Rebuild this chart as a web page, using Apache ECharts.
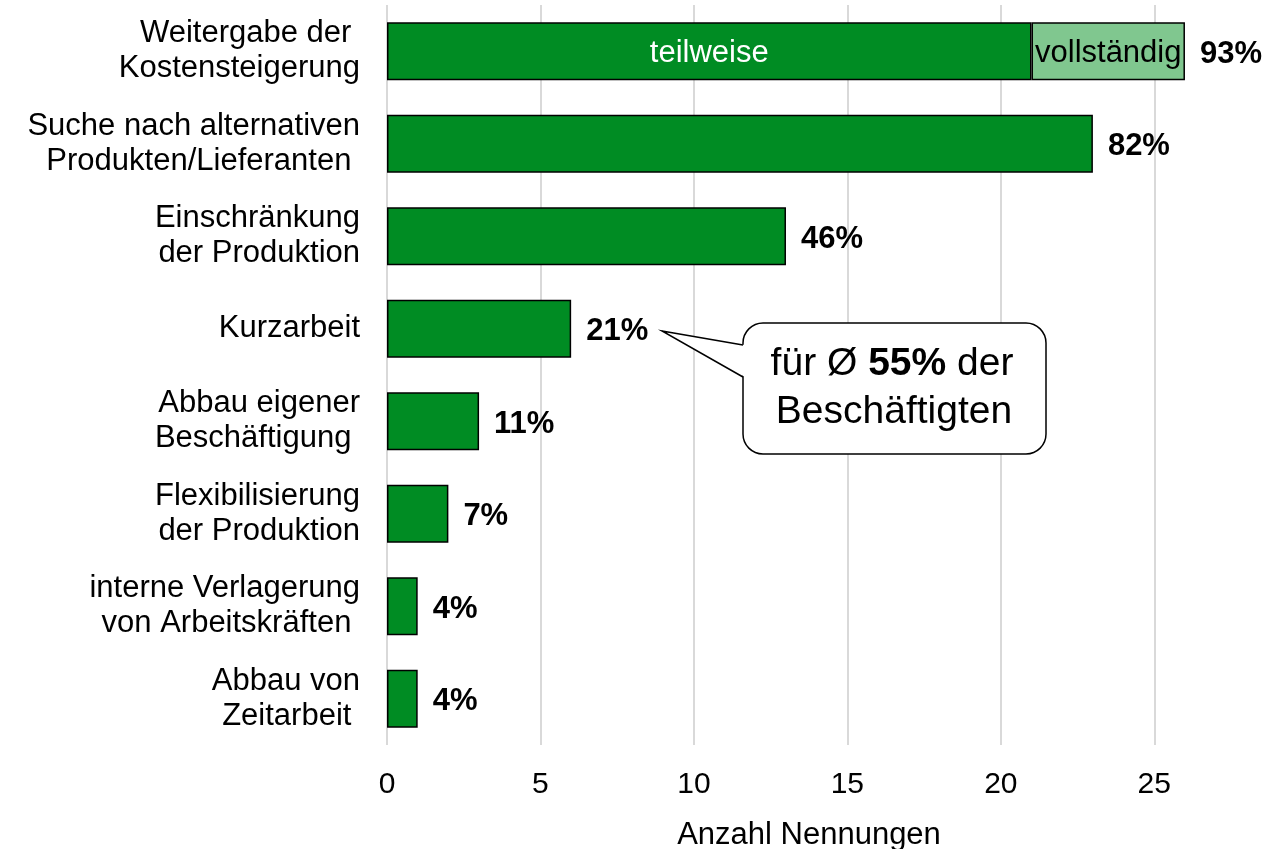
<!DOCTYPE html>
<html>
<head>
<meta charset="utf-8">
<script src="https://cdn.jsdelivr.net/npm/echarts@6/dist/echarts.min.js"></script>
<style>
  html, body { margin: 0; padding: 0; background: #fff; }
  #chart { width: 1272px; height: 849px; }
</style>
</head>
<body>
<div id="chart"></div>
<script>
// Kategorien (von oben nach unten)
var categories = [
  'Weitergabe der \nKostensteigerung',
  'Suche nach alternativen\nProdukten/Lieferanten ',
  'Einschränkung\nder Produktion',
  'Kurzarbeit',
  'Abbau eigener\nBeschäftigung ',
  'Flexibilisierung\nder Produktion',
  'interne Verlagerung\nvon Arbeitskräften ',
  'Abbau von\nZeitarbeit '
];
// Anzahl Nennungen
var teilweise = [21, 23, 13, 6, 3, 2, 1, 1];
var vollstaendig = [5, 0, 0, 0, 0, 0, 0, 0];
var anteile = ['93%', '82%', '46%', '21%', '11%', '7%', '4%', '4%'];
var xTicks = [0, 5, 10, 15, 20, 25];

var FONT = '"Liberation Sans", Arial, sans-serif';
var dunkelgruen = '#008C23';
var hellgruen = '#80C78F';

var chart = echarts.init(document.getElementById('chart'));

var valueLabel = {
  show: true,
  position: 'right',
  distance: 15,
  offset: [0, 3],
  fontFamily: FONT,
  fontSize: 31,
  fontWeight: 'bold',
  color: '#000',
  formatter: function (p) { return anteile[p.dataIndex]; }
};

var option = {
  animation: false,
  textStyle: { fontFamily: FONT },
  grid: { left: 387, right: 41, top: 5, bottom: 104, containLabel: false, outerBoundsMode: 'none' },
  xAxis: {
    type: 'value',
    min: xTicks[0],
    max: 27.5,
    interval: 5,
    name: 'Anzahl Nennungen',
    nameLocation: 'middle',
    nameGap: 75,
    nameTextStyle: { fontFamily: FONT, fontSize: 31, color: '#000' },
    axisLine: { show: false },
    axisTick: { show: false },
    axisLabel: { fontFamily: FONT, fontSize: 30, color: '#000', margin: 25, showMaxLabel: false },
    splitLine: { show: true, showMaxLine: false, lineStyle: { color: '#D9D9D9', width: 2 } }
  },
  yAxis: {
    type: 'category',
    inverse: true,
    data: categories,
    axisLine: { show: false },
    axisTick: { show: false },
    axisLabel: {
      fontFamily: FONT, fontSize: 31, lineHeight: 35, color: '#000',
      margin: 27, align: 'right', padding: [6, 0, 0, 0]
    }
  },
  series: [
    {
      name: 'teilweise',
      type: 'bar',
      stack: 'summe',
      barWidth: 58,
      itemStyle: { color: dunkelgruen, borderColor: '#000', borderWidth: 1.5 },
      label: valueLabel,
      data: teilweise.map(function (v, i) {
        if (vollstaendig[i] > 0) {
          return {
            value: v,
            label: { position: 'inside', offset: [0, 2], fontWeight: 'normal', color: '#fff', formatter: 'teilweise' }
          };
        }
        return v;
      })
    },
    {
      name: 'vollständig',
      type: 'bar',
      stack: 'summe',
      barWidth: 58,
      itemStyle: { color: hellgruen, borderColor: '#000', borderWidth: 1.5 },
      label: { show: true, position: 'inside', offset: [0, 2], fontFamily: FONT, fontSize: 31, color: '#000', formatter: 'vollständig' },
      data: vollstaendig.map(function (v) { return v > 0 ? v : '-'; })
    },
    {
      name: 'gesamt',
      type: 'bar',
      stack: 'summe',
      barWidth: 58,
      itemStyle: { color: 'transparent', borderWidth: 0 },
      label: valueLabel,
      data: vollstaendig.map(function (v) { return v > 0 ? 0 : '-'; })
    }
  ],
  graphic: [
    {
      type: 'rect',
      shape: { x: 743, y: 323, width: 303, height: 131, r: 20 },
      style: { fill: '#fff', stroke: '#000', lineWidth: 1.5 },
      z: 10
    },
    {
      type: 'polygon',
      shape: { points: [[662, 331], [745, 345], [745, 377]] },
      style: { fill: '#fff', stroke: null },
      z: 11
    },
    {
      type: 'polyline',
      shape: { points: [[743, 345], [662, 331], [743, 377]] },
      style: { fill: null, stroke: '#000', lineWidth: 1.5 },
      z: 12
    },
    {
      type: 'text',
      x: 892, y: 364,
      z: 13,
      style: {
        text: '{n|für Ø }{b|55%}{n| der}',
        align: 'center',
        verticalAlign: 'middle',
        rich: {
          n: { fontFamily: FONT, fontSize: 39, fill: '#000' },
          b: { fontFamily: FONT, fontSize: 39, fontWeight: 'bold', fill: '#000' }
        }
      }
    },
    {
      type: 'text',
      x: 894, y: 412,
      z: 13,
      style: {
        text: 'Beschäftigten',
        align: 'center',
        verticalAlign: 'middle',
        font: '39px ' + FONT,
        fill: '#000'
      }
    }
  ]
};

chart.setOption(option);
</script>
</body>
</html>
